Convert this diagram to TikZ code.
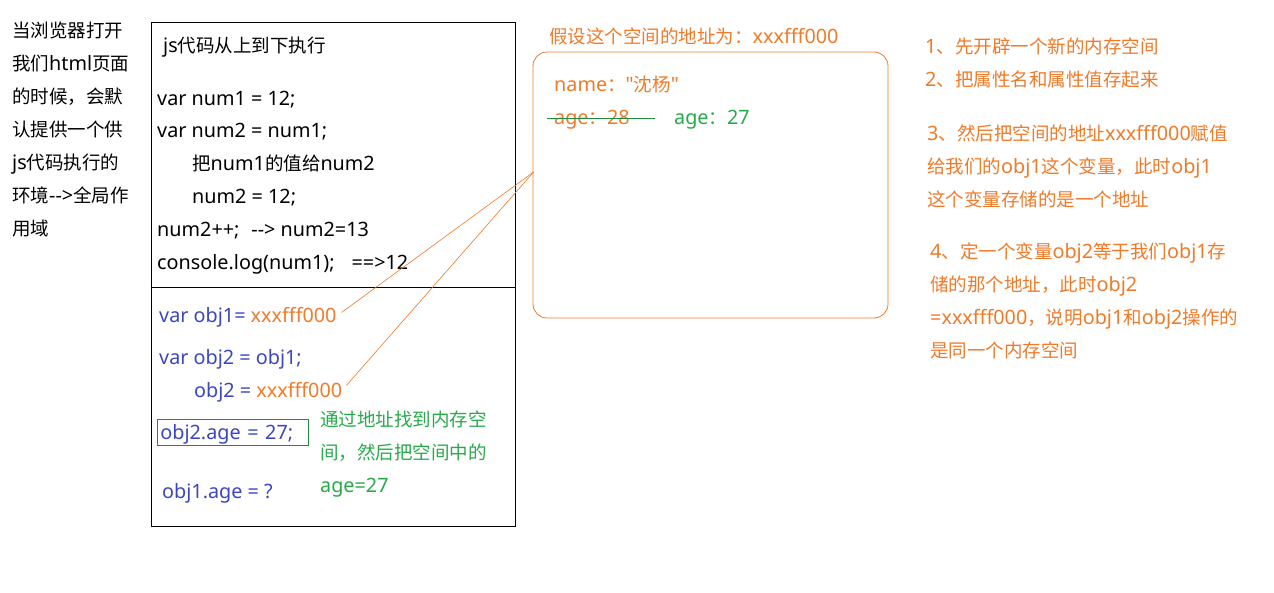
\documentclass[tikz,border=0pt]{standalone}
\usepackage{fontspec}
\setmainfont{Noto Sans}[Scale=1.07, Ligatures=TeXOff]
\newfontfamily\cjkfont{Noto Sans CJK SC}[Ligatures=TeXOff]
% CJK characters switch to the CJK family
\XeTeXinterchartokenstate=1
\newXeTeXintercharclass\cjkcls
\makeatletter
\count@="3000 \loop\XeTeXcharclass\count@=\cjkcls\ifnum\count@<"303F \advance\count@ by 1 \repeat
\count@="4E00 \loop\XeTeXcharclass\count@=\cjkcls\ifnum\count@<"9FFF \advance\count@ by 1 \repeat
\count@="FF00 \loop\XeTeXcharclass\count@=\cjkcls\ifnum\count@<"FFEF \advance\count@ by 1 \repeat
\makeatother
\XeTeXinterchartoks 0 \cjkcls = {\begingroup\cjkfont}
\XeTeXinterchartoks 4095 \cjkcls = {\begingroup\cjkfont}
\XeTeXinterchartoks \cjkcls 0 = {\endgroup}
\XeTeXinterchartoks \cjkcls 4095 = {\endgroup}
\usetikzlibrary{positioning,calc}
\definecolor{memorange}{RGB}{240,122,40}
\definecolor{objblue}{RGB}{60,70,195}
\definecolor{addrgreen}{RGB}{40,170,75}
\definecolor{boxgreen}{RGB}{30,140,60}
\tikzset{
  txt/.style   = {anchor=west, inner sep=0pt, text height=16pt, text depth=2pt,
                  font=\fontsize{18.5}{33}\selectfont},
  para/.style  = {anchor=north west, inner sep=0pt, align=left,
                  font=\fontsize{18.5}{33}\selectfont},
  frame/.style = {draw, line width=0.8pt},
  ptr/.style   = {draw=memorange, line width=0.6pt, shorten <=6pt},
}

\begin{document}
\begin{tikzpicture}[x=1pt,y=-1pt]
    \fill[white] (0,0) rectangle (1274,593);
    \useasboundingbox (0,0) rectangle (1274,593);
    % left note
    \node[para] (env) at (12,22) {当浏览器打开\\我们html页面\\的时候，会默\\认提供一个供\\js代码执行的\\环境-->全局作\\用域};
    % execution box
    \node[frame, minimum width=364pt, minimum height=504pt] (stack) at (333,274) {};
    \draw[frame] ($(stack.north west)+(0,266)$) -- ($(stack.north east)+(0,266)$);
    \node[txt] (title) at (163,46) {js代码从上到下执行};
    \node[txt] (num1) at (157,99) {var num1 = 12;};
    \node[txt] (num2) at (157,131) {var num2 = num1;};
    \node[txt] (copy) at (192,164) {把num1的值给num2};
    \node[txt] (val2) at (192,197) {num2 = 12;};
    \node[txt] (incr) at (157,230) {num2++;\hspace{12pt}--> num2=13};
    \node[txt] (log) at (157,263) {console.log(num1);\hspace{17pt}==>12};
    % objects
    \node[txt, text=objblue] (obj1) at (159,316) {var obj1= \textcolor{memorange}{xxxfff000}};
    \node[txt, text=objblue] (ref2) at (159,357) {var obj2 = obj1;};
    \node[txt, text=objblue] (obj2) at (194,390) {obj2 = \textcolor{memorange}{xxxfff000}};
    \node[txt, draw=boxgreen, line width=0.8pt, text=objblue, text width=145pt,
          inner xsep=3pt, inner ysep=4pt] (setage) at (157,432) {obj2.age = 27;};
    \node[txt, text=objblue] (getage) at (162,491) {obj1.age = ?};
    \node[para, text=addrgreen] (find) at (320,411) {通过地址找到内存空\\间，然后把空间中的\\age=27};
    % heap memory
    \node[draw=memorange, line width=0.8pt, rounded corners=14pt,
          minimum width=355pt, minimum height=266pt] (mem) at (710.5,185) {};
    \node[txt, text=memorange] (addr) at (549,37) {假设这个空间的地址为：xxxfff000};
    \node[txt, text=memorange] (name) at (554,85) {name："沈杨"};
    \node[txt, text=memorange] (age28) at (554,118) {age：28};
    \node[txt, text=addrgreen] (age27) at (674,118) {age：27};
    \draw[boxgreen, line width=0.8pt] ($(age28.west)+(-7,0)$) -- ($(age28.east)+(25,0)$);
    % pointers
    \coordinate (memin) at ($(mem.west)+(1,-13)$);
    \draw[ptr] (obj1.east) -- (memin);
    \draw[ptr] (obj2.east) -- (memin);
    % steps
    \node[para, text=memorange] (step12) at (925,38) {1、先开辟一个新的内存空间\\2、把属性名和属性值存起来};
    \node[para, text=memorange] (step3) at (927,125) {3、然后把空间的地址xxxfff000赋值\\给我们的obj1这个变量，此时obj1\\这个变量存储的是一个地址};
    \node[para, text=memorange] (step4) at (930,243) {4、定一个变量obj2等于我们obj1存\\储的那个地址，此时obj2\\=xxxfff000，说明obj1和obj2操作的\\是同一个内存空间};
\end{tikzpicture}
\end{document}
